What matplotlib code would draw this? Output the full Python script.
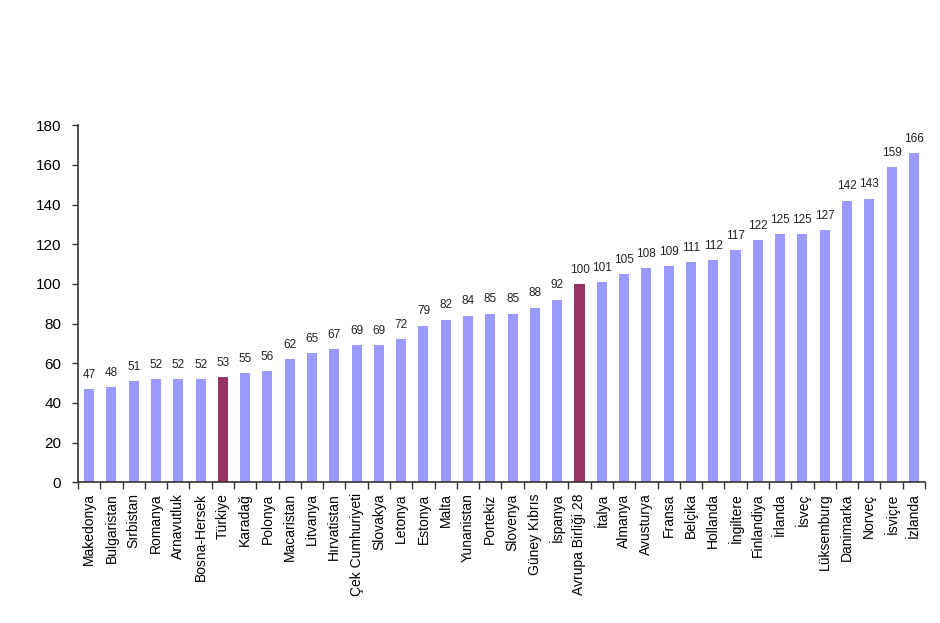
import matplotlib
matplotlib.use('Agg')
import matplotlib.pyplot as plt
import numpy as np

plt.rcParams['font.family'] = ['Liberation Sans', 'DejaVu Sans']

countries = ['Makedonya', 'Bulgaristan', 'Sırbistan', 'Romanya', 'Arnavutluk', 'Bosna-Hersek',
             'Türkiye', 'Karadağ', 'Polonya', 'Macaristan', 'Litvanya', 'Hırvatistan',
             'Çek Cumhuriyeti', 'Slovakya', 'Letonya', 'Estonya', 'Malta', 'Yunanistan',
             'Portekiz', 'Slovenya', 'Güney Kıbrıs', 'İspanya', 'Avrupa Birliği 28', 'İtalya',
             'Almanya', 'Avusturya', 'Fransa', 'Belçika', 'Hollanda', 'İngiltere', 'Finlandiya',
             'İrlanda', 'İsveç', 'Lüksemburg', 'Danimarka', 'Norveç', 'İsviçre', 'İzlanda']
values = [47, 48, 51, 52, 52, 52, 53, 55, 56, 62, 65, 67, 69, 69, 72, 79, 82, 84, 85, 85,
          88, 92, 100, 101, 105, 108, 109, 111, 112, 117, 122, 125, 125, 127, 142, 143, 159, 166]
highlight = ['Türkiye', 'Avrupa Birliği 28']

fig = plt.figure(figsize=(9.4, 6.23), dpi=100)
ax = fig.add_axes([0.083, 0.226, 0.901, 0.573])

x = np.arange(len(countries))
colors = ['#993366' if c in highlight else '#9999ff' for c in countries]
ax.bar(x, values, width=0.45, color=colors, edgecolor='none')

for xi, v in zip(x, values):
    ax.annotate(str(v), (xi, v), xytext=(0, 6), textcoords='offset points',
                ha='center', va='bottom', fontsize=8.5, color='#222222')

ax.set_xlim(-0.5, len(countries) - 0.5)
ax.set_ylim(0, 180)
ax.set_yticks(range(0, 181, 20))
ax.tick_params(axis='y', labelsize=11, direction='out', length=4, width=1,
               color='#333333', pad=8)

# category labels at bar centres, tick marks between bars
ax.set_xticks(x)
ax.set_xticklabels(countries, rotation=90, fontsize=10)
ax.tick_params(axis='x', which='major', length=0, pad=8)
ax.set_xticks(np.arange(-0.5, len(countries)), minor=True)
ax.tick_params(axis='x', which='minor', direction='out', length=5, width=1, color='#333333')

for s in ['top', 'right']:
    ax.spines[s].set_visible(False)
for s in ['left', 'bottom']:
    ax.spines[s].set_color('#333333')
    ax.spines[s].set_linewidth(1.2)

fig.savefig('out.png', dpi=100)
